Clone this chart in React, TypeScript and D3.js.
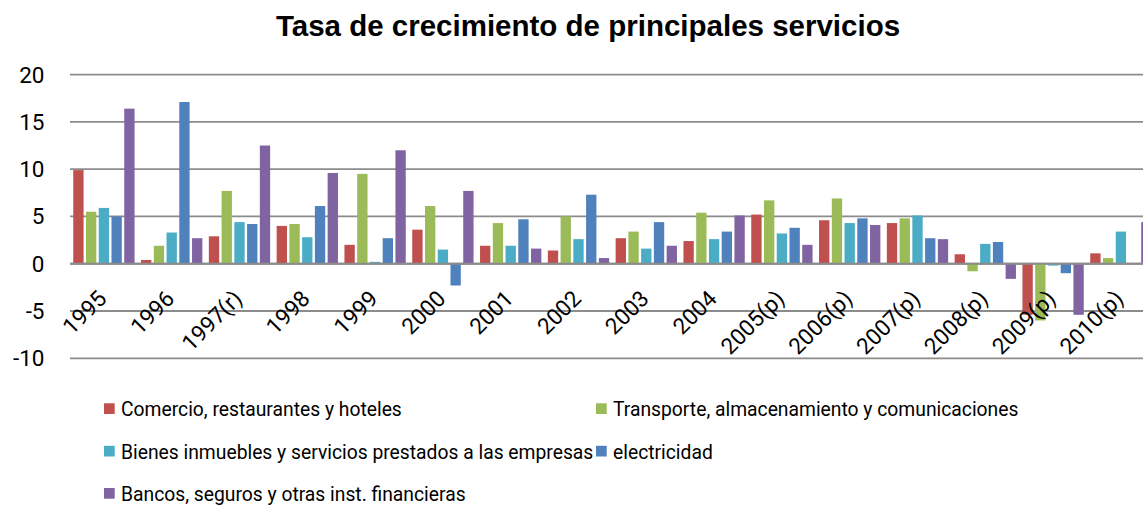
import React from "react";
import * as d3 from "d3";

// categories and series (growth rate, %)
const categories = [
  "1995", "1996", "1997(r)", "1998", "1999", "2000", "2001", "2002",
  "2003", "2004", "2005(p)", "2006(p)", "2007(p)", "2008(p)", "2009(p)", "2010(p)",
];
const comercio = [9.9, 0.4, 2.9, 4.0, 2.0, 3.6, 1.9, 1.4, 2.7, 2.4, 5.2, 4.6, 4.3, 1.0, -5.4, 1.1];
const transporte = [5.5, 1.9, 7.7, 4.2, 9.5, 6.1, 4.3, 5.0, 3.4, 5.4, 6.7, 6.9, 4.8, -0.8, -6.0, 0.6];
const bienes = [5.9, 3.3, 4.4, 2.8, 0.2, 1.5, 1.9, 2.6, 1.6, 2.6, 3.2, 4.3, 5.1, 2.1, -0.2, 3.4];
const electricidad = [5.0, 17.1, 4.2, 6.1, 2.7, -2.3, 4.7, 7.3, 4.4, 3.4, 3.8, 4.8, 2.7, 2.3, -1.0, 0];
const bancos = [16.4, 2.7, 12.5, 9.6, 12.0, 7.7, 1.6, 0.6, 1.9, 5.1, 2.0, 4.1, 2.6, -1.6, -5.4, 4.4];
const yTicks = [-10, -5, 0, 5, 10, 15, 20];

const series = [
  { name: "Comercio, restaurantes y hoteles", values: comercio, color: "#C0504D" },
  { name: "Transporte, almacenamiento y comunicaciones", values: transporte, color: "#9BBB59" },
  { name: "Bienes inmuebles y servicios prestados a las empresas", values: bienes, color: "#4BACC6" },
  { name: "electricidad", values: electricidad, color: "#4F81BD" },
  { name: "Bancos, seguros y otras inst. financieras", values: bancos, color: "#8064A2" },
];

const width = 1143;
const height = 506;
const plotLeft = 70;
const font = "Roboto, 'Open Sans', sans-serif";

export default function App() {
  const x0 = d3
    .scaleBand()
    .domain(categories)
    .range([plotLeft, plotLeft + 16 * 67.8])
    .paddingInner(0.06)
    .paddingOuter(0.03);

  const x1 = d3
    .scaleBand()
    .domain(series.map((s) => s.name))
    .range([0, x0.bandwidth()])
    .paddingInner(0.19)
    .paddingOuter(0.095);

  const y = d3.scaleLinear().domain([-10, 20]).range([358.3, 74.6]);

  // legend rows (col 1 / col 2)
  const legendPos = [
    { x: 104, y: 416 },
    { x: 596, y: 416 },
    { x: 104, y: 458.5 },
    { x: 596, y: 458.5 },
    { x: 104, y: 500.7 },
  ];

  return (
    <svg
      width={width}
      height={height}
      style={{ position: "absolute", left: 0, top: 0, background: "#fff" }}
    >
      <text
        x={588}
        y={36}
        textAnchor="middle"
        fontFamily="'Liberation Sans', Arial, sans-serif"
        fontWeight="bold"
        fontSize={29.5}
      >
        Tasa de crecimiento de principales servicios
      </text>

      {/* gridlines + y labels */}
      {yTicks.map((t) => (
        <g key={t}>
          <line x1={plotLeft} x2={width} y1={y(t)} y2={y(t)} stroke="#8c8c8c" strokeWidth={1.8} />
          <text
            x={44.5}
            y={y(t)}
            textAnchor="end"
            dominantBaseline="central"
            fontFamily={font}
            fontSize={22.5}
            fill="#000"
          >
            {t}
          </text>
        </g>
      ))}

      {/* bars */}
      {categories.map((c, i) => (
        <g key={c} transform={`translate(${x0(c)},0)`}>
          {series.map((s) => {
            const v = s.values[i];
            return (
              <rect
                key={s.name}
                x={x1(s.name)}
                y={Math.min(y(v), y(0))}
                width={x1.bandwidth()}
                height={Math.abs(y(v) - y(0))}
                fill={s.color}
              />
            );
          })}
        </g>
      ))}

      {/* zero line on top */}
      <line x1={plotLeft} x2={width} y1={y(0)} y2={y(0)} stroke="#8c8c8c" strokeWidth={1.8} />

      {/* x labels */}
      {categories.map((c) => {
        const cx = (x0(c) as number) + x0.bandwidth() / 2 + 4;
        return (
          <text
            key={c}
            transform={`translate(${cx},300) rotate(-45)`}
            textAnchor="end"
            fontFamily={font}
            fontSize={22.5}
            fill="#000"
          >
            {c}
          </text>
        );
      })}

      {/* legend */}
      {series.map((s, i) => (
        <g key={s.name}>
          <rect x={legendPos[i].x} y={legendPos[i].y - 12.7} width={10.7} height={10.7} fill={s.color} />
          <text x={legendPos[i].x + 17} y={legendPos[i].y} fontFamily={font} fontSize={19.3} fill="#000">
            {s.name}
          </text>
        </g>
      ))}
    </svg>
  );
}
